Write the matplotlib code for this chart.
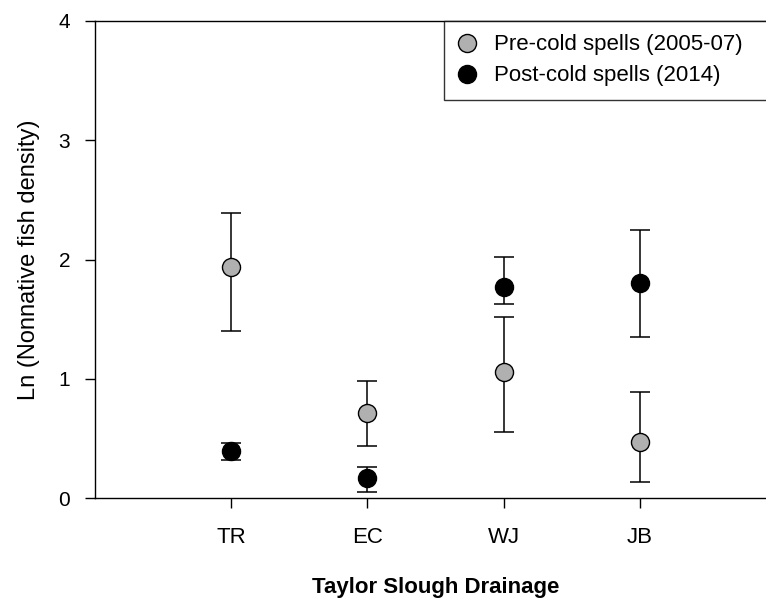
import numpy as np
import matplotlib
matplotlib.use('Agg')
import matplotlib.pyplot as plt

plt.rcParams['font.family'] = ['Liberation Sans', 'DejaVu Sans']

sites = ['TR', 'EC', 'WJ', 'JB']

# pre-cold spells (2005-07): mean, lower and upper error bar ends
pre_mean = [1.94, 0.715, 1.06, 0.47]
pre_low = [1.40, 0.44, 0.55, 0.13]
pre_high = [2.39, 0.98, 1.52, 0.89]

# post-cold spells (2014)
post_mean = [0.39, 0.17, 1.77, 1.80]
post_low = [0.32, 0.05, 1.63, 1.35]
post_high = [0.46, 0.26, 2.02, 2.25]

W, H = 766, 602
fig = plt.figure(figsize=(W / 100, H / 100), dpi=100)
ax = fig.add_axes([95 / W, (H - 498) / H, (776 - 95) / W, (498 - 21) / H])

x = np.arange(1, len(sites) + 1)


def draw(mean, low, high, color, label):
    mean = np.array(mean)
    yerr = [mean - np.array(low), np.array(high) - mean]
    ax.errorbar(x, mean, yerr=yerr, fmt='none', ecolor='black', elinewidth=1.1,
                capsize=7, capthick=1.1, zorder=2)
    ax.plot(x, mean, 'o', ms=13, mfc=color, mec='black', mew=1.0,
            label=label, zorder=3, linestyle='none')


draw(pre_mean, pre_low, pre_high, '#b0b0b0', 'Pre-cold spells (2005-07)')
draw(post_mean, post_low, post_high, 'black', 'Post-cold spells (2014)')

ax.set_xlim(0, 5)
ax.set_ylim(0, 4)
ax.set_xticks(x)
ax.set_xticklabels(sites)
ax.set_yticks([0, 1, 2, 3, 4])
ax.spines['right'].set_visible(False)
for s in ['left', 'bottom', 'top']:
    ax.spines[s].set_linewidth(1.0)
ax.tick_params(direction='out', length=7, width=1.0)
ax.tick_params(axis='y', labelsize=15, pad=11)
ax.tick_params(axis='x', labelsize=16, pad=14)

ax.set_ylabel('Ln (Nonnative fish density)', fontsize=17, labelpad=13)
ax.set_xlabel('Taylor Slough Drainage', fontsize=16, fontweight='bold', labelpad=21)

leg = ax.legend(loc='upper left', bbox_to_anchor=(444 / W, (H - 98) / H, (800 - 444) / W, 77 / H),
                bbox_transform=fig.transFigure, mode='expand', borderaxespad=0,
                fontsize=16, frameon=True, fancybox=False, handletextpad=0.75,
                borderpad=0.6, labelspacing=0.45, handlelength=0.9)
leg.get_frame().set_edgecolor('black')
leg.get_frame().set_linewidth(1.0)

fig.savefig('out.png', dpi=100)
